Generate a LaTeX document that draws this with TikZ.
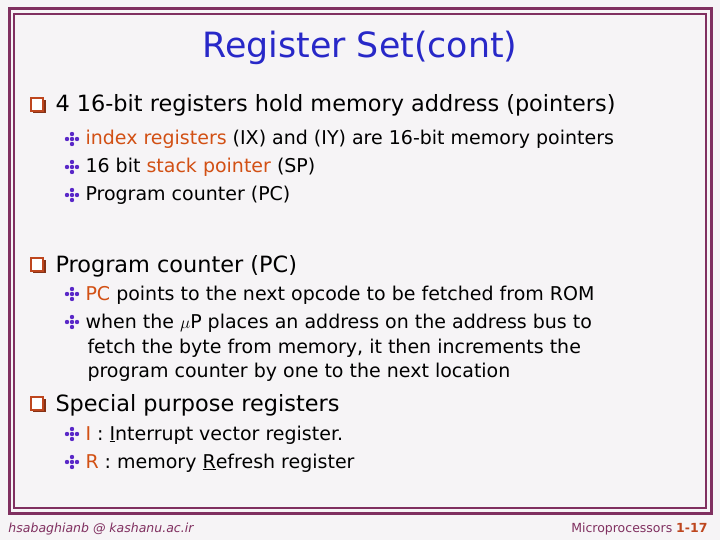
\documentclass[tikz,border=0pt]{standalone}
\usepackage{fontspec}
\setmainfont{DejaVu Sans}
\definecolor{frame}{RGB}{128,48,96}
\definecolor{titleblue}{RGB}{40,40,200}
\definecolor{hilite}{RGB}{210,80,20}
\definecolor{boxbrown}{RGB}{190,70,30}
\definecolor{dotblue}{RGB}{90,40,200}
\definecolor{paper}{RGB}{246,244,246}
\tikzset{every picture/.style={line width=1pt}}
\tikzset{
  lvlone/.style={anchor=base west,inner sep=0pt,font=\fontsize{22.4}{25}\selectfont},
  lvltwo/.style={anchor=base west,inner sep=0pt,font=\fontsize{19}{21}\selectfont},
  foot/.style={inner sep=0pt,font=\itshape\fontsize{12.5}{14}\selectfont},
}
\newcommand{\sqbul}[2]{% square bullet at x,y (baseline)
  \fill[boxbrown!70!black] (#1+2,#2+1) rectangle (#1+15,#2-12);
  \draw[boxbrown,fill=white,line width=1.2pt] (#1,#2-1) rectangle (#1+12,#2-14);}
\newcommand{\dibul}[2]{% four-dot diamond bullet
  \foreach \dx/\dy in {0/-5,5/0,10/-5,5/-10,5/-5}
    \fill[dotblue] (#1+\dx,#2+\dy-1) circle (2.2pt);}
\begin{document}
\begin{tikzpicture}[x=1pt,y=-1pt]
\useasboundingbox (0,0) rectangle (720,540);
\fill[paper] (0,0) rectangle (720,540);
%frame
\draw[frame,line width=3pt] (9,9) rectangle (711,513);
\draw[frame,line width=1.5pt] (14,14) rectangle (706,508);
%title
\node[anchor=base,inner sep=0pt,text=titleblue,font=\fontsize{34.8}{38}\selectfont] (title) at (360,58) {Register Set(cont)};
%first block
\sqbul{31}{112}
\node[lvlone] (ptrs) at (55,112) {4 16-bit registers hold memory address (pointers)};
\dibul{67}{145}
\node[lvltwo] (idx) at (85,145) {\textcolor{hilite}{index registers} (IX) and (IY) are 16-bit memory pointers};
\dibul{67}{173}
\node[lvltwo] (sp) at (85,173) {16 bit \textcolor{hilite}{stack pointer} (SP)};
\dibul{67}{201}
\node[lvltwo] (pc) at (85,201) {Program counter (PC)};
%second block
\sqbul{31}{272}
\node[lvlone] (pchead) at (55,272) {Program counter (PC)};
\dibul{67}{300}
\node[lvltwo] (pcnext) at (85,300) {\textcolor{hilite}{PC} points to the next opcode to be fetched from ROM};
\dibul{67}{328}
\node[lvltwo] (inc1) at (85,328) {when the $\mu$P places an address on the address bus to};
\node[lvltwo] (inc2) at (87,353) {fetch the byte from memory, it then increments the};
\node[lvltwo] (inc3) at (87,377) {program counter by one to the next location};
%third block
\sqbul{31}{411}
\node[lvlone] (spec) at (55,411) {Special purpose registers};
\dibul{67}{440}
\node[lvltwo] (ireg) at (85,440) {\textcolor{hilite}{I} : \underline{I}nterrupt vector register.};
\dibul{67}{468}
\node[lvltwo] (rreg) at (85,468) {\textcolor{hilite}{R} : memory \underline{R}efresh register};
%footer
\node[foot,anchor=base west,text=frame] (mail) at (8,532) {hsabaghianb @ kashanu.ac.ir};
\node[foot,anchor=base east,text=frame,font=\fontsize{12.5}{14}\selectfont] (page) at (708,532) {Microprocessors \textcolor{boxbrown}{\bfseries 1-17}};
\end{tikzpicture}
\end{document}
